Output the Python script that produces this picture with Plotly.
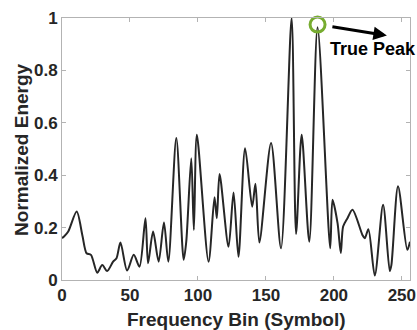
import plotly.graph_objects as go

bins = [0, 1.5, 4.6, 10.8, 15, 18.1, 21.3, 25.9, 29.6, 33.2, 37.6, 40.1, 43.0, 47.9,
        52.8, 57, 61.4, 63.3, 67, 71.1, 75, 78.2, 84.1, 89.5, 91.4, 95.1, 97, 99.2,
        107.8, 112.2, 113.9, 115.9, 122.5, 126.2, 129.8, 134.7, 139.9, 142.3, 145.2,
        153.8, 161.1, 168.9, 172.2, 176.3, 181.9, 188, 197.3, 199, 202.7, 205.1, 206.8,
        210, 213.7, 221, 222.7, 225.4, 230.1, 236.2, 241.1, 242.3, 247.2, 254, 256]
energy = [0.16, 0.166, 0.185, 0.261, 0.17, 0.102, 0.096, 0.028, 0.057, 0.034, 0.07, 0.083, 0.143, 0.036,
          0.096, 0.051, 0.236, 0.064, 0.185, 0.07, 0.219, 0.07, 0.542, 0.077, 0.146, 0.465, 0.191, 0.554,
          0.07, 0.316, 0.236, 0.405, 0.127, 0.334, 0.089, 0.503, 0.28, 0.367, 0.143,
          0.523, 0.121, 1.0, 0.176, 0.554, 0.146, 0.965, 0.121, 0.306, 0.217, 0.103, 0.204,
          0.236, 0.268, 0.172, 0.159, 0.194, 0.017, 0.287, 0.034, 0.057, 0.358, 0.115, 0.146]

peak_bin = [188]
peak_val = [0.975]
x_ticks = [0, 50, 100, 150, 200, 250]
y_ticks = [0, 0.2, 0.4, 0.6, 0.8, 1]
y_tick_labels = ["0", "0.2", "0.4", "0.6", "0.8", "1"]

font_family = "Liberation Sans, Arial, sans-serif"
text_col = "#262626"
axis_col = "#b3b3b3"

fig = go.Figure()
fig.add_trace(go.Scatter(x=bins, y=energy, mode="lines",
                         line=dict(color="#262626", width=2, shape="spline", smoothing=0.8),
                         showlegend=False, hoverinfo="skip"))
fig.add_trace(go.Scatter(x=peak_bin, y=peak_val, mode="markers",
                         marker=dict(symbol="circle-open", size=15, color="#77ac30",
                                     line=dict(width=3, color="#77ac30")),
                         showlegend=False, cliponaxis=False))

# arrow pointing away from the true peak
fig.add_annotation(x=239, y=0.933, xref="x", yref="y", ax=-56, ay=-9,
                   showarrow=True, arrowhead=2, arrowsize=0.9, arrowwidth=3,
                   arrowcolor="black", text="")
fig.add_annotation(x=0.764, y=0.882, xref="paper", yref="paper", text="<b>True Peak</b>",
                   showarrow=False, font=dict(family=font_family, size=18, color="black"),
                   xanchor="left", yanchor="middle")

# axis titles
fig.add_annotation(x=0.5, y=-0.149, xref="paper", yref="paper",
                   text="<b>Frequency Bin (Symbol)</b>", showarrow=False,
                   font=dict(family=font_family, size=19, color=text_col),
                   xanchor="center", yanchor="middle")
fig.add_annotation(x=-0.118, y=0.5, xref="paper", yref="paper",
                   text="<b>Normalized Energy</b>", showarrow=False, textangle=-90,
                   font=dict(family=font_family, size=19, color=text_col),
                   xanchor="center", yanchor="middle")

fig.update_layout(
    width=417, height=330,
    margin=dict(l=62, r=7, t=18, b=50),
    plot_bgcolor="white", paper_bgcolor="white",
    font=dict(family=font_family, color=text_col),
    xaxis=dict(range=[0, 256], tickvals=x_ticks, ticks="inside", ticklen=4,
               tickcolor=axis_col, showline=True, linecolor=axis_col, linewidth=1,
               mirror="ticks", showgrid=False, zeroline=False, automargin=False,
               tickfont=dict(size=17, family=font_family, color=text_col, weight="bold")),
    yaxis=dict(range=[0, 1], tickvals=y_ticks, ticktext=y_tick_labels, ticks="inside",
               ticklen=4, tickcolor=axis_col, showline=True, linecolor=axis_col,
               linewidth=1, mirror="ticks", showgrid=False, zeroline=False, automargin=False,
               tickfont=dict(size=17, family=font_family, color=text_col, weight="bold")),
)

fig.write_html("out.html")
